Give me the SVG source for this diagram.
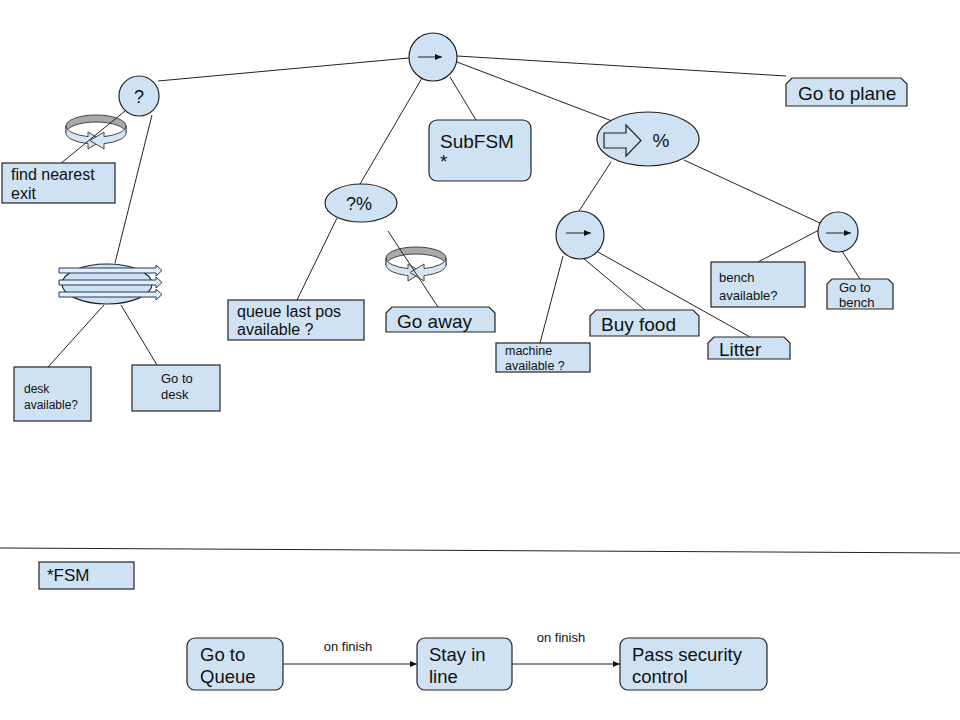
<svg xmlns="http://www.w3.org/2000/svg" width="960" height="720" viewBox="0 0 960 720">
<style>
.n{fill:#cfe2f3;stroke:#222;stroke-width:1.2}
.e{stroke:#222;stroke-width:1;fill:none}
.t{font-family:"Liberation Sans",Arial,sans-serif;fill:#111}
.ba{fill:#e3eef8;stroke:#1f3864;stroke-width:1}
.gr{fill:#a9a9a9;stroke:#444;stroke-width:1}
.lb{fill:#d4e6f5;stroke:#444;stroke-width:1}
</style>
<defs>
<marker id="ah" markerWidth="8" markerHeight="8" refX="7" refY="4" orient="auto" markerUnits="userSpaceOnUse"><path d="M0,1 L7,4 L0,7 Z" fill="#111"/></marker>
<g id="loop">
<path class="gr" d="M-30,-3 A30,11 0 0 1 30,-3 L30,4 A30,11 0 0 0 -30,4 Z"/>
<path class="lb" d="M-30,-3 A30,11 0 0 0 -8,7.6 L-8,3 L6,11.5 L-8,20 L-8,14.6 A30,11 0 0 1 -30,4 Z"/>
<path class="lb" d="M30,-3 A30,11 0 0 1 8,7.6 L8,3 L-6,11.5 L8,20 L8,14.6 A30,11 0 0 0 30,4 Z"/>
</g>
</defs>
<rect width="960" height="720" fill="#fff"/>
<g id="loop1"><use href="#loop" x="96" y="129"/></g>
<g id="loop2"><use href="#loop" x="416" y="261"/></g>
<g id="connectors">
<line class="e" x1="409" y1="58" x2="158" y2="81"/>
<line class="e" x1="457" y1="56" x2="786" y2="76"/>
<line class="e" x1="422" y1="78" x2="360" y2="184"/>
<line class="e" x1="450" y1="77" x2="476" y2="120"/>
<line class="e" x1="457" y1="62" x2="612" y2="121"/>
<line class="e" x1="125" y1="111" x2="60" y2="164"/>
<line class="e" x1="152" y1="115" x2="115" y2="263"/>
<line class="e" x1="104" y1="305" x2="48" y2="367"/>
<line class="e" x1="121" y1="305" x2="157" y2="365"/>
<line class="e" x1="337" y1="218" x2="297" y2="300"/>
<line class="e" x1="388" y1="231" x2="438" y2="307"/>
<line class="e" x1="611" y1="162" x2="579" y2="211"/>
<line class="e" x1="684" y1="160" x2="820" y2="223"/>
<line class="e" x1="563" y1="256" x2="540" y2="343"/>
<line class="e" x1="583" y1="258" x2="645" y2="310"/>
<line class="e" x1="598" y1="252" x2="750" y2="337"/>
<line class="e" x1="819" y1="230" x2="758" y2="262"/>
<line class="e" x1="842" y1="251" x2="860" y2="279"/>
<line class="e" x1="0" y1="548" x2="960" y2="553"/>
<line class="e" x1="283" y1="664" x2="417" y2="664" marker-end="url(#ah)"/>
<line class="e" x1="512" y1="664" x2="620" y2="664" marker-end="url(#ah)"/>
<text class="t" x="348" y="651" font-size="13" text-anchor="middle">on finish</text>
<text class="t" x="561" y="642" font-size="13" text-anchor="middle">on finish</text>
</g>
<g id="root-seq">
<circle class="n" cx="433" cy="57" r="24"/>
<line class="e" x1="418" y1="57" x2="442" y2="57" marker-end="url(#ah)"/>
</g>
<g id="selector">
<circle class="n" cx="139" cy="96" r="20"/>
<text class="t" x="139" y="103" font-size="18" text-anchor="middle">?</text>
</g>
<g id="find-exit">
<rect class="n" x="2" y="163" width="113" height="40"/>
<text class="t" x="11" y="180" font-size="16">find nearest</text>
<text class="t" x="11" y="199" font-size="16">exit</text>
</g>
<g id="parallel">
<ellipse class="n" cx="107" cy="284" rx="45" ry="20"/>
<path class="ba" d="M59,268 L156,268 L156,265 L162,270.5 L156,276 L156,273 L59,273 Z"/>
<path class="ba" d="M59,280 L156,280 L156,277 L162,282.5 L156,288 L156,285 L59,285 Z"/>
<path class="ba" d="M59,292 L156,292 L156,289 L162,294.5 L156,300 L156,297 L59,297 Z"/>
</g>
<g id="desk-available">
<rect class="n" x="14" y="367" width="77" height="54"/>
<text class="t" x="24" y="393" font-size="12">desk</text>
<text class="t" x="24" y="409" font-size="12">available?</text>
</g>
<g id="go-to-desk">
<rect class="n" x="132" y="365" width="88" height="46"/>
<text class="t" x="161" y="383" font-size="13">Go to</text>
<text class="t" x="161" y="399" font-size="13">desk</text>
</g>
<g id="rand-selector">
<ellipse class="n" cx="361" cy="203" rx="36" ry="19"/>
<text class="t" x="359" y="210" font-size="18" text-anchor="middle">?%</text>
</g>
<g id="queue-last">
<rect class="n" x="228" y="300" width="136" height="40"/>
<text class="t" x="237" y="317" font-size="16">queue last pos</text>
<text class="t" x="237" y="335" font-size="16">available ?</text>
</g>
<g id="go-away">
<path class="n" d="M392,307 L489,307 L495,313 L495,332 L386,332 L386,313 Z"/>
<text class="t" x="397" y="328" font-size="19">Go away</text>
</g>
<g id="subfsm">
<rect class="n" x="429" y="120" width="102" height="61" rx="8"/>
<text class="t" x="440" y="148" font-size="19">SubFSM</text>
<text class="t" x="440" y="168" font-size="19">*</text>
</g>
<g id="rand-seq">
<ellipse class="n" cx="648" cy="139" rx="51" ry="27"/>
<path class="n" d="M604,133 L626,133 L626,125 L641,140.5 L626,156 L626,148 L604,148 Z"/>
<text class="t" x="661" y="147" font-size="19" text-anchor="middle">%</text>
</g>
<g id="go-to-plane">
<path class="n" d="M792,78 L901,78 L907,84 L907,106 L786,106 L786,84 Z"/>
<text class="t" x="798" y="100" font-size="19">Go to plane</text>
</g>
<g id="seq2">
<circle class="n" cx="580" cy="235" r="24"/>
<line class="e" x1="566" y1="233" x2="591" y2="233" marker-end="url(#ah)"/>
</g>
<g id="machine-available">
<rect class="n" x="496" y="343" width="94" height="29"/>
<text class="t" x="505" y="355" font-size="12.5">machine</text>
<text class="t" x="505" y="370" font-size="12.5">available ?</text>
</g>
<g id="buy-food">
<path class="n" d="M596,310 L693,310 L699,316 L699,336 L590,336 L590,316 Z"/>
<text class="t" x="601" y="331" font-size="19">Buy food</text>
</g>
<g id="litter">
<path class="n" d="M714,337 L784,337 L790,343 L790,359 L708,359 L708,343 Z"/>
<text class="t" x="719" y="356" font-size="19">Litter</text>
</g>
<g id="seq3">
<circle class="n" cx="838" cy="232" r="20"/>
<line class="e" x1="826" y1="233" x2="851" y2="233" marker-end="url(#ah)"/>
</g>
<g id="bench-available">
<rect class="n" x="711" y="262" width="94" height="45"/>
<text class="t" x="719" y="282" font-size="13">bench</text>
<text class="t" x="719" y="300" font-size="13">available?</text>
</g>
<g id="go-to-bench">
<path class="n" d="M832,279 L888,279 L893,284 L893,309 L827,309 L827,284 Z"/>
<text class="t" x="839" y="292" font-size="13">Go to</text>
<text class="t" x="839" y="307" font-size="13">bench</text>
</g>
<g id="fsm-label">
<rect class="n" x="39" y="562" width="95" height="27"/>
<text class="t" x="47" y="581" font-size="17">*FSM</text>
</g>
<g id="go-to-queue">
<rect class="n" x="187" y="638" width="96" height="52" rx="8"/>
<text class="t" x="200" y="661" font-size="18.5">Go to</text>
<text class="t" x="200" y="683" font-size="18.5">Queue</text>
</g>
<g id="stay-in-line">
<rect class="n" x="417" y="638" width="95" height="52" rx="8"/>
<text class="t" x="429" y="661" font-size="18.5">Stay in</text>
<text class="t" x="429" y="683" font-size="18.5">line</text>
</g>
<g id="pass-security">
<rect class="n" x="620" y="638" width="147" height="52" rx="8"/>
<text class="t" x="632" y="661" font-size="18.5">Pass security</text>
<text class="t" x="632" y="683" font-size="18.5">control</text>
</g>
</svg>
